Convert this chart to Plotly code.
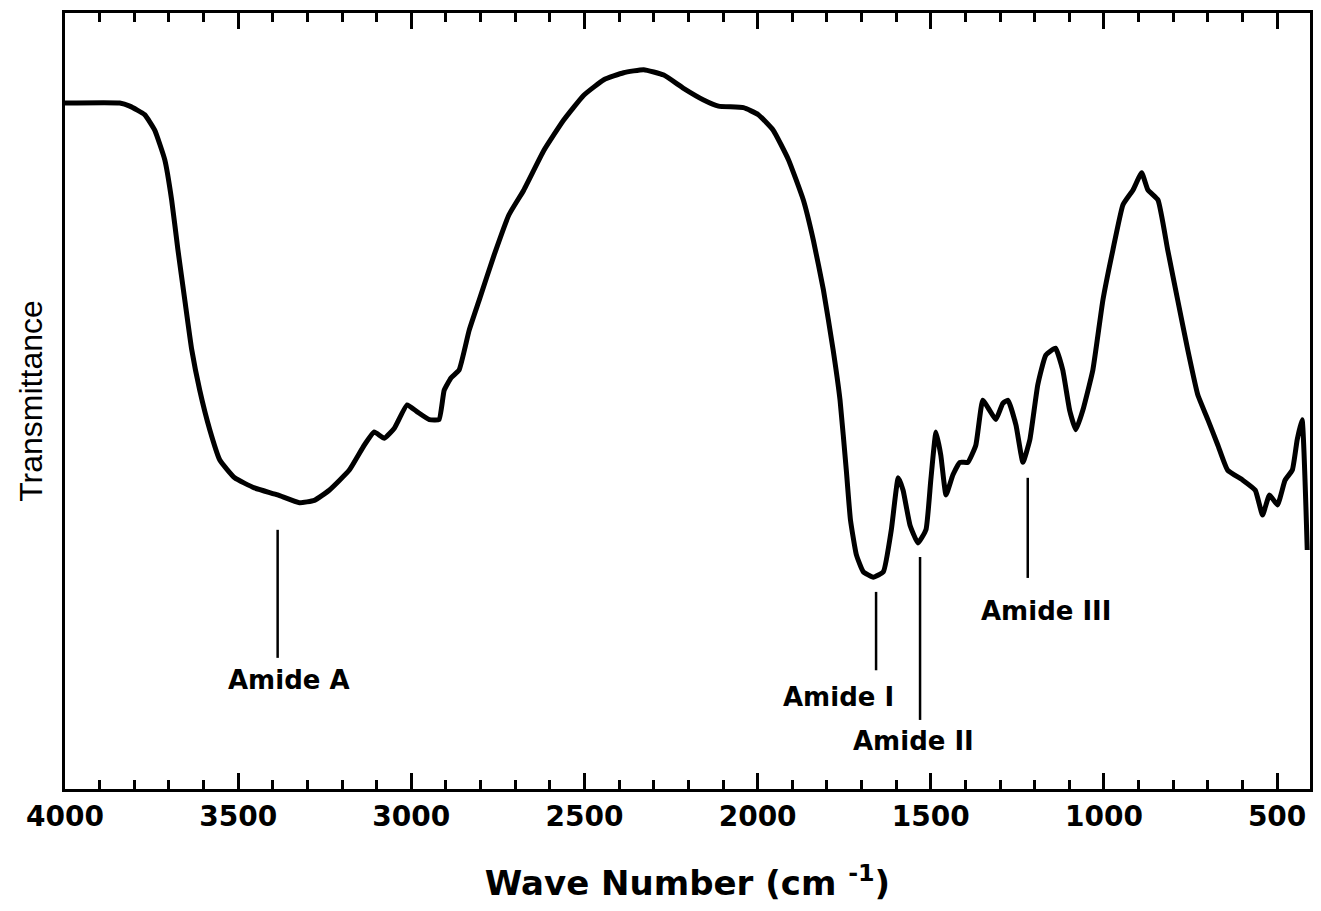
import plotly.graph_objects as go

# FTIR spectrum
wavenumber = [4000, 3842, 3813, 3770, 3741, 3712, 3692, 3674, 3654, 3634, 3611, 3582, 3553, 3510, 3453,
              3386, 3323, 3280, 3237, 3179, 3136, 3107, 3078, 3049, 3012, 2983, 2948, 2920, 2905, 2885,
              2862, 2833, 2804, 2761, 2718, 2675, 2617, 2560, 2502, 2444, 2387, 2329, 2271, 2214, 2156,
              2113, 2041, 1998, 1955, 1911, 1868, 1839, 1810, 1782, 1762, 1744, 1732, 1715, 1695, 1666,
              1637, 1614, 1594, 1580, 1560, 1537, 1514, 1500, 1485, 1471, 1456, 1436, 1416, 1393, 1370,
              1350, 1330, 1312, 1292, 1277, 1254, 1234, 1214, 1191, 1168, 1140, 1119, 1099, 1081, 1061,
              1032, 1003, 974, 945, 916, 891, 873, 844, 816, 787, 758, 729, 700, 671, 643,
              599, 563, 542, 522, 499, 477, 456, 442, 428, 413]
transmittance = [88.4, 88.4, 88.0, 86.9, 84.9, 81.1, 75.9, 69.5, 63.0, 56.6, 51.4, 46.3, 42.4, 40.1, 38.8,
                 37.9, 36.9, 37.2, 38.5, 41.1, 44.3, 46.0, 45.2, 46.5, 49.5, 48.6, 47.6, 47.6, 51.4, 53.0,
                 54.0, 59.1, 63.0, 68.8, 74.0, 77.2, 82.3, 86.2, 89.4, 91.4, 92.3, 92.7, 92.0, 90.3, 88.8,
                 88.0, 87.8, 86.9, 84.9, 81.1, 75.9, 70.7, 64.3, 56.6, 50.1, 41.1, 34.7, 30.2, 28.0, 27.3,
                 28.0, 33.4, 40.1, 38.5, 34.0, 31.7, 33.4, 39.8, 46.0, 43.0, 37.9, 40.5, 42.1, 42.1, 44.3,
                 50.1, 48.8, 47.6, 49.7, 50.1, 46.9, 42.1, 45.0, 52.1, 55.9, 56.8, 54.0, 48.8, 46.3, 48.8,
                 54.0, 63.0, 69.5, 75.3, 77.2, 79.4, 77.2, 75.9, 69.5, 63.0, 56.6, 50.8, 47.6, 44.3, 41.1,
                 39.8, 38.5, 35.3, 37.9, 36.6, 39.8, 41.1, 45.0, 47.6, 30.8]

band_labels = ["Amide A", "Amide I", "Amide II", "Amide III"]
band_positions = [3386, 1658, 1531, 1220]
tick_values = [4000, 3500, 3000, 2500, 2000, 1500, 1000, 500]
tick_labels = ["4000", "3500", "3000", "2500", "2000", "1500", "1000", "500"]

fig = go.Figure()
fig.add_trace(go.Scatter(x=wavenumber, y=transmittance, mode="lines",
                         line=dict(color="black", width=5, shape="spline", smoothing=0.4),
                         showlegend=False, hoverinfo="skip"))

# marker lines (y extent) and label positions for each band
line_ranges = [(33.4, 16.9), (25.4, 15.3), (29.9, 8.9), (40.1, 27.2)]
label_pos = [(3352, 14.0), (1767, 11.9), (1551, 6.2), (1168, 22.9)]
for name, xw, (y0, y1), (lx, ly) in zip(band_labels, band_positions, line_ranges, label_pos):
    fig.add_shape(type="line", xref="x", yref="y", x0=xw, x1=xw, y0=y0, y1=y1,
                  line=dict(color="black", width=2.5))
    fig.add_annotation(x=lx, y=ly, xref="x", yref="y", text=name, showarrow=False,
                       font=dict(family="DejaVu Sans", size=26, color="black", weight="bold"))

fig.update_layout(
    width=1321, height=911,
    margin=dict(l=65, r=8, t=13, b=122),
    paper_bgcolor="white", plot_bgcolor="white",
    xaxis=dict(range=[4000, 405], tickvals=tick_values, ticktext=tick_labels,
               ticks="inside", ticklen=16, tickwidth=3, tickcolor="black",
               showline=True, linewidth=3, linecolor="black", mirror="ticks",
               showgrid=False, zeroline=False,
               minor=dict(dtick=100, tick0=0, ticks="inside", ticklen=9, tickwidth=3,
                          tickcolor="black", showgrid=False),
               tickfont=dict(family="DejaVu Sans", size=28, color="black", weight="bold"),
               title=dict(text="Wave Number (cm <sup>-1</sup>)", standoff=40,
                          font=dict(family="DejaVu Sans", size=34, color="black", weight="bold"))),
    yaxis=dict(range=[0, 100], showticklabels=False, ticks="", showgrid=False, zeroline=False,
               showline=True, linewidth=3, linecolor="black", mirror=True,
               title=dict(text="Transmittance", standoff=10,
                          font=dict(family="Liberation Sans Narrow, Liberation Sans", size=32,
                                    color="black"))),
)

fig.write_html("out.html")
